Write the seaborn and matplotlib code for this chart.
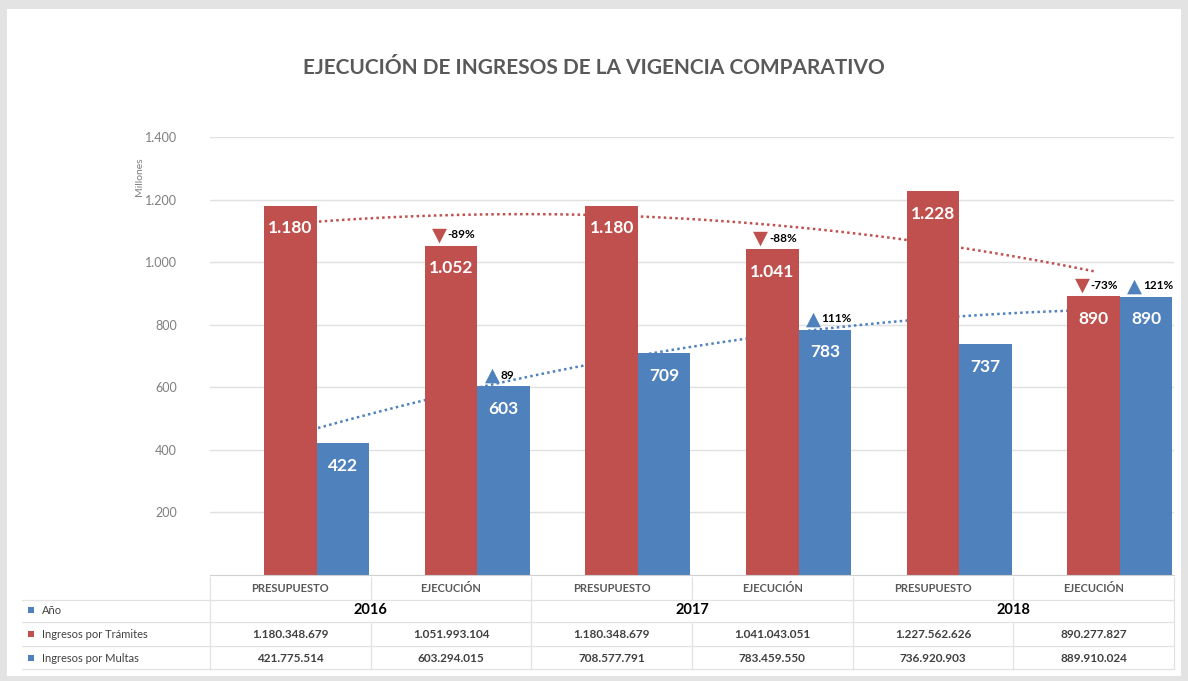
import numpy as np
import pandas as pd
import seaborn as sns
import matplotlib.pyplot as plt
from matplotlib import transforms
from matplotlib.ticker import FuncFormatter

# data (values in pesos)
years = ["2016", "2017", "2018"]
stages = ["PRESUPUESTO", "EJECUCIÓN"]
anio = [2016, 2016, 2017, 2017, 2018, 2018]
tramites = [1180348679, 1051993104, 1180348679, 1041043051, 1227562626, 890277827]
multas = [421775514, 603294015, 708577791, 783459550, 736920903, 889910024]
tramites_note = [None, "-89%", None, "-88%", None, "-73%"]
multas_note = [None, "89", None, "111%", None, "121%"]
series = ["Año", "Ingresos por Trámites", "Ingresos por Multas"]

RED = "#C0504D"
BLUE = "#4F81BD"
GREY = "#595959"

W, H = 1188, 681


def fx(x):
    return x / W


def fy(y):
    return 1 - y / H


def miles(v):
    return f"{v:,.0f}".replace(",", ".")


sns.set_style("white")
plt.rcParams["font.family"] = ["Lato", "DejaVu Sans"]

cols = [f"{y} {s}" for y in years for s in stages]
rows = []
for i, c in enumerate(cols):
    rows.append((c, series[0], anio[i] / 1e6))
    rows.append((c, series[1], tramites[i] / 1e6))
    rows.append((c, series[2], multas[i] / 1e6))
df = pd.DataFrame(rows, columns=["col", "serie", "valor"])

fig = plt.figure(figsize=(W / 100, H / 100), dpi=100)
fig.patch.set_facecolor("#e3e3e3")
fig.patches.append(plt.Rectangle((fx(7), fy(676)), fx(1174), fy(9) - fy(676),
                                 transform=fig.transFigure, facecolor="white",
                                 edgecolor="none", zorder=-5))

ax = fig.add_axes([fx(210), fy(575), fx(1174 - 210), fy(137) - fy(575)])
ax.set_facecolor("none")
sns.barplot(df, x="col", y="valor", hue="serie", order=cols, hue_order=series,
            palette=[BLUE, RED, BLUE], saturation=1, width=0.98, gap=0,
            errorbar=None, legend=False, ax=ax, zorder=2, linewidth=0)

# polynomial trendlines (order 2), like the Excel ones
xs = np.arange(len(cols))
xx = np.linspace(0, len(cols) - 1, 200)
for vals, color in [(tramites, RED), (multas, BLUE)]:
    coef = np.polyfit(xs, np.array(vals) / 1e6, 2)
    ax.plot(xx, np.polyval(coef, xx), color=color, linestyle=(0, (1, 1.3)),
            linewidth=1.8, zorder=1.5)

ax.set_xlim(-0.5, len(cols) - 0.5)
ax.set_ylim(0, 1400)
ax.set_yticks(range(200, 1401, 200))
ax.yaxis.set_major_formatter(FuncFormatter(lambda v, p: miles(v)))
ax.tick_params(axis="y", length=0, pad=24, labelsize=9, labelcolor="#7f7f7f")
ax.set_xticks([])
ax.set_xlabel("")
ax.set_ylabel("Millones", fontsize=7.5, color="#7f7f7f")
ax.yaxis.set_label_coords(-0.068, 0.91)
ax.grid(axis="y", color="#e0e0e0", linewidth=1)
ax.set_axisbelow(True)
for s in ["left", "right", "top"]:
    ax.spines[s].set_visible(False)
ax.spines["bottom"].set_color("#d0d0d0")

# labels inside the bars and the small arrows above them
for cont, vals, notes, mark, mcol in [
    (ax.containers[1], tramites, tramites_note, "▼", RED),
    (ax.containers[2], multas, multas_note, "▲", BLUE),
]:
    ax.bar_label(cont, labels=[miles(v / 1e6) for v in vals], padding=-22,
                 color="white", fontsize=12.5, fontweight="bold")
    for bar, note in zip(cont.patches, notes):
        if note is None:
            continue
        bx = bar.get_x() + bar.get_width() * 0.28
        ax.annotate(mark, (bx, bar.get_height()), xytext=(0, 1),
                    textcoords="offset points", ha="center", va="bottom",
                    fontsize=14, color=mcol, family="DejaVu Sans")
        ax.annotate(note, (bx, bar.get_height()), xytext=(6, 4),
                    textcoords="offset points", ha="left", va="bottom",
                    fontsize=8.5, fontweight="bold", color="black")

fig.text(0.5, fy(68), "EJECUCIÓN DE INGRESOS DE LA VIGENCIA COMPARATIVO",
         ha="center", va="center", fontsize=15, fontweight="bold", color=GREY)

# data table under the chart
tr = transforms.blended_transform_factory(ax.transData, fig.transFigure)
line_kw = dict(color="#e2e2e2", linewidth=0.9)
for yl in [600, 622, 646, 669]:
    fig.add_artist(plt.Line2D([fx(22), fx(1174)], [fy(yl), fy(yl)],
                              transform=fig.transFigure, **line_kw))
for k in range(len(cols) + 1):
    xb = k - 0.5
    fig.add_artist(plt.Line2D([xb, xb], [fy(577), fy(600)], transform=tr, **line_kw))
    fig.add_artist(plt.Line2D([xb, xb], [fy(622), fy(669)], transform=tr, **line_kw))
    if k % 2 == 0:
        fig.add_artist(plt.Line2D([xb, xb], [fy(600), fy(622)], transform=tr, **line_kw))

for i, c in enumerate(cols):
    fig.text(i, fy(588), stages[i % 2], transform=tr, ha="center", va="center",
             fontsize=8, fontweight="bold", color=GREY)
    fig.text(i, fy(634), miles(tramites[i]), transform=tr, ha="center",
             va="center", fontsize=8.5, fontweight="bold", color="#404040")
    fig.text(i, fy(658), miles(multas[i]), transform=tr, ha="center",
             va="center", fontsize=8.5, fontweight="bold", color="#404040")
for j, y in enumerate(years):
    fig.text(2 * j + 0.5, fy(610), y, transform=tr, ha="center", va="center",
             fontsize=10.5, fontweight="bold", color="black")

for name, col, yr in zip(series, [BLUE, RED, BLUE], [610, 634, 658]):
    fig.add_artist(plt.Rectangle((fx(28), fy(yr + 3)), fx(6), fy(yr - 3) - fy(yr + 3),
                                 transform=fig.transFigure, facecolor=col,
                                 edgecolor="none"))
    fig.text(fx(42), fy(yr), name, ha="left", va="center", fontsize=8,
             color="#404040")

plt.savefig("out.png", dpi=100, facecolor=fig.get_facecolor())
